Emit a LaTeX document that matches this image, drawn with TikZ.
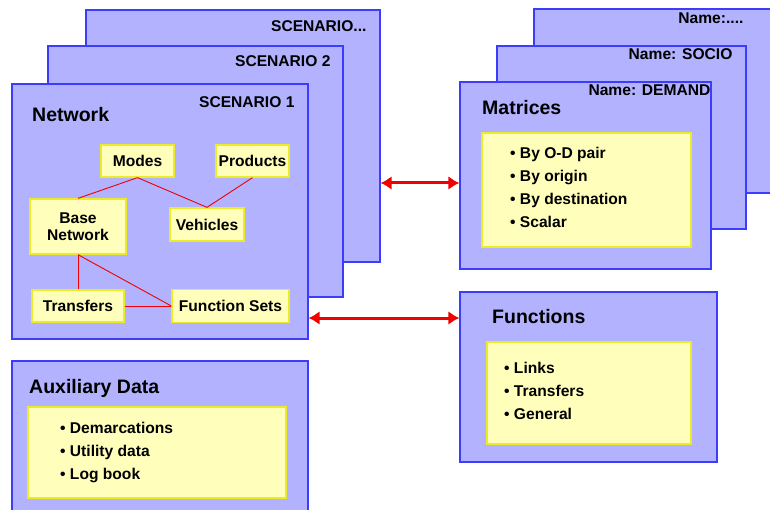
\documentclass[tikz,border=0pt]{standalone}
\usepackage{fontspec}
\setmainfont{Liberation Sans}
\usetikzlibrary{arrows.meta,positioning}
\definecolor{panelfill}{RGB}{178,178,255}
\definecolor{panelline}{RGB}{60,60,255}
\definecolor{notefill}{RGB}{255,255,187}
\definecolor{noteline}{RGB}{235,235,40}
\definecolor{linkred}{RGB}{240,0,0}

\begin{document}
\begin{tikzpicture}[x=1pt,y=-1pt,
	panel/.style={rectangle,draw=panelline,fill=panelfill,line width=1.3pt,inner sep=0pt},
	note/.style={rectangle,draw=noteline,fill=notefill,line width=1.3pt,inner sep=0pt,align=center,font=\fontsize{15.6}{17}\selectfont\bfseries},
	tag/.style={inner sep=0pt,anchor=east,font=\fontsize{15.6}{18}\selectfont\bfseries},
	title/.style={inner sep=0pt,anchor=west,font=\fontsize{19.5}{22}\selectfont\bfseries},
	list/.style={inner sep=0pt,anchor=west,align=left,font=\fontsize{15.6}{23}\selectfont\bfseries},
	tie/.style={draw=linkred,line width=0.9pt},
	link/.style={{Latex[length=11pt,width=14pt]}-{Latex[length=11pt,width=14pt]},draw=linkred,line width=3pt}]
	\useasboundingbox (0,0) rectangle (770,510);
	\clip (0,0) rectangle (770,510);

	% scenario stack
	\node[panel,minimum width=294pt,minimum height=252pt] (scn3) at (233,136) {};
	\node[tag] at ([shift={(-14,17)}]scn3.north east) {SCENARIO...};
	\node[panel,minimum width=295pt,minimum height=251pt] (scn2) at (195.5,171.5) {};
	\node[tag] at ([shift={(-13,16)}]scn2.north east) {SCENARIO 2};
	\node[panel,minimum width=296pt,minimum height=255pt] (scn1) at (160,211.5) {};
	\node[tag] at ([shift={(-14,19)}]scn1.north east) {SCENARIO 1};
	\node[title] (net) at (32,115) {Network};

	\begin{scope}[every node/.style={note}]
		\node[minimum width=73pt,minimum height=32pt] (modes) at (137.5,161) {Modes};
		\node[minimum width=73pt,minimum height=32pt] (products) at (252.5,161) {Products};
		\node[minimum width=96pt,minimum height=55pt] (basenet) at (78,226.5) {Base\\Network};
		\node[minimum width=74pt,minimum height=33pt] (vehicles) at (207,224.5) {Vehicles};
		\node[minimum width=92pt,minimum height=32pt] (transfers) at (78,306) {Transfers};
		\node[minimum width=117pt,minimum height=33pt] (funcsets) at (230.5,306) {Function Sets};
	\end{scope}

	\draw[tie] (modes.south) -- (basenet.north);
	\draw[tie] (modes.south) -- (vehicles.north);
	\draw[tie] (products.south) -- (vehicles.north);
	\draw[tie] (basenet.south) -- (transfers.north);
	\draw[tie] (basenet.south) -- (funcsets.west);
	\draw[tie] (transfers.east) -- (funcsets.west);

	% matrix stack
	\node[panel,minimum width=251pt,minimum height=184pt] (mat3) at (659.5,101) {};
	\node[tag] at ([shift={(-42,10)}]mat3.north east) {Name:....};
	\node[panel,minimum width=249pt,minimum height=183pt] (mat2) at (621.5,137.5) {};
	\node[tag] at ([shift={(-14,9)}]mat2.north east) {Name: SOCIO};
	\node[panel,minimum width=251pt,minimum height=187pt] (mat1) at (585.5,175.5) {};
	\node[tag] at ([shift={(-1,9)}]mat1.north east) {Name: DEMAND};
	\node[title] (mattitle) at (482,108) {Matrices};
	\node[note,minimum width=209pt,minimum height=114pt] (matnote) at (586.5,190) {};
	\node[list] (matlist) at (510,187) {\textbullet\ By O-D pair\\\textbullet\ By origin\\\textbullet\ By destination\\\textbullet\ Scalar};

	% functions
	\node[panel,minimum width=257pt,minimum height=170pt] (funcs) at (588.5,377) {};
	\node[title] (functitle) at (492,317) {Functions};
	\node[note,minimum width=204pt,minimum height=102pt] (funcnote) at (589,393) {};
	\node[list] (funclist) at (504,391) {\textbullet\ Links\\\textbullet\ Transfers\\\textbullet\ General};

	% auxiliary data
	\node[panel,minimum width=296pt,minimum height=159pt] (aux) at (160,440.5) {};
	\node[title] (auxtitle) at (29,388) {Auxiliary Data};
	\node[note,minimum width=258pt,minimum height=91pt] (auxnote) at (157,452.5) {};
	\node[list] (auxlist) at (60,452) {\textbullet\ Demarcations\\\textbullet\ Utility data\\\textbullet\ Log book};

	\draw[link] ([yshift=-7.5pt]mat1.west -| scn3.east) -- ([yshift=-7.5pt]mat1.west);
	\draw[link] ([yshift=-12pt]funcsets.east -| scn1.east) -- ([yshift=-12pt]funcsets.east -| funcs.west);
\end{tikzpicture}
\end{document}
